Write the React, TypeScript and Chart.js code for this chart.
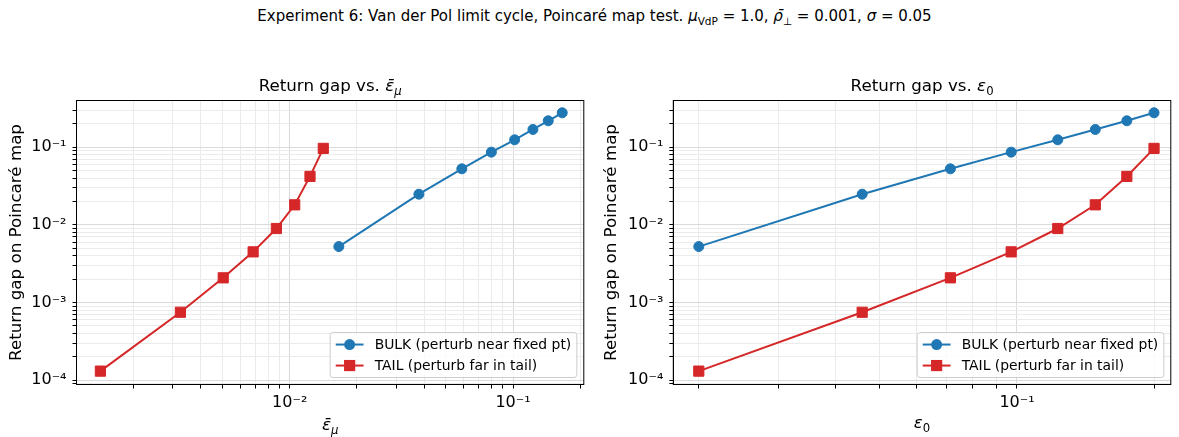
import React, { useEffect, useRef } from "react";
import { Chart, registerables } from "chart.js";

Chart.register(...registerables);

// ---------------- data ----------------
const bulkEpsMu = [0.0166, 0.0379, 0.059, 0.08, 0.1017, 0.1228, 0.1438, 0.1661];
const tailEpsMu = [0.00142, 0.00324, 0.00504, 0.00686, 0.00872, 0.01053, 0.01233, 0.01414];
const eps0 = [0.02, 0.0457, 0.0714, 0.0971, 0.1229, 0.1486, 0.1743, 0.2];
const bulkGap = [0.00525, 0.0248, 0.0526, 0.0862, 0.1243, 0.1689, 0.2184, 0.2769];
const tailGap = [0.000131, 0.00075, 0.00208, 0.00449, 0.00897, 0.0181, 0.042, 0.0964];

const gapRange = [8.81e-5, 0.3985];
const epsMuRange = [0.00111, 0.2075];
const eps0Range = [0.01758, 0.2177];

const bulkLabel = "BULK (perturb near fixed pt)";
const tailLabel = "TAIL (perturb far in tail)";
const yLabel = "Return gap on Poincaré map";

// ---------------- styling ----------------
const FONT = '"DejaVu Sans", sans-serif';
const BLUE = "#1f77b4";
const RED = "#d62728";
const MAJOR_GRID = "#dadada";
const MINOR_GRID = "#ebebeb";
const W = 1179;
const H = 437;

type Run = { t: string; it?: boolean; sub?: boolean };

const SUP: Record<string, string> = {
  "-": "⁻", "0": "⁰", "1": "¹", "2": "²", "3": "³", "4": "⁴",
  "5": "⁵", "6": "⁶", "7": "⁷", "8": "⁸", "9": "⁹",
};
const sup = (n: number) => String(n).split("").map((c) => SUP[c] || c).join("");

const isMajor = (v: number) => {
  const l = Math.log10(v);
  return Math.abs(l - Math.round(l)) < 1e-9;
};

function logTicks(min: number, max: number) {
  const out: number[] = [];
  for (let e = Math.floor(Math.log10(min)); e <= Math.ceil(Math.log10(max)); e++) {
    for (let m = 1; m <= 9; m++) {
      const v = parseFloat((m * Math.pow(10, e)).toPrecision(6));
      if (v >= min && v <= max) out.push(v);
    }
  }
  return out;
}

function drawRich(ctx: CanvasRenderingContext2D, runs: Run[], cx: number, baseline: number, size: number) {
  const fontOf = (r: Run) => `${r.it ? "italic " : ""}${r.sub ? size * 0.7 : size}px ${FONT}`;
  let total = 0;
  const widths = runs.map((r) => {
    ctx.font = fontOf(r);
    const w = ctx.measureText(r.t).width;
    total += w;
    return w;
  });
  let x = cx - total / 2;
  ctx.save();
  ctx.fillStyle = "#000";
  ctx.textAlign = "left";
  ctx.textBaseline = "alphabetic";
  runs.forEach((r, i) => {
    ctx.font = fontOf(r);
    ctx.fillText(r.t, x, baseline + (r.sub ? size * 0.22 : 0));
    x += widths[i];
  });
  ctx.restore();
}

function logAxis(range: number[], position: "left" | "bottom", fit: number, title?: { text: string; pad: number }) {
  const [min, max] = range;
  return {
    type: "logarithmic" as const,
    position,
    min,
    max,
    afterBuildTicks: (s: any) => {
      s.ticks = logTicks(min, max).map((v) => ({ value: v, major: isMajor(v) }));
    },
    afterFit: (s: any) => {
      if (position === "left") s.width = fit;
      else s.height = fit;
    },
    ticks: {
      autoSkip: false,
      maxRotation: 0,
      minRotation: 0,
      color: "#000",
      padding: position === "left" ? 6 : 5,
      font: { family: FONT, size: 16 },
      callback: (v: any) => (isMajor(Number(v)) ? "10" + sup(Math.round(Math.log10(Number(v)))) : ""),
    },
    grid: {
      color: (c: any) => (c.tick && c.tick.major ? MAJOR_GRID : MINOR_GRID),
      tickColor: "#000",
      tickLength: 4,
      lineWidth: 1,
    },
    border: { display: true, color: "#000", width: 1 },
    title: title
      ? {
          display: true,
          text: title.text,
          color: "#000",
          font: { family: FONT, size: 16.7, lineHeight: 1.2 },
          padding: { top: title.pad, bottom: 0 },
        }
      : { display: false },
  };
}

function makePlugin(titleRuns: Run[], xRuns: Run[], xBaseline: number) {
  return {
    id: "decor",
    afterDatasetsDraw(chart: any) {
      const { ctx, chartArea: ca } = chart;
      // frame (top/right spines)
      ctx.save();
      ctx.strokeStyle = "#000";
      ctx.lineWidth = 1;
      ctx.strokeRect(ca.left, ca.top, ca.right - ca.left, ca.bottom - ca.top);
      ctx.restore();

      // legend (lower right)
      const fs = 13.9;
      ctx.save();
      ctx.font = `${fs}px ${FONT}`;
      const ds = chart.data.datasets;
      const tw = Math.max(...ds.map((d: any) => ctx.measureText(d.label).width));
      const bp = 0.4 * fs, hl = 2 * fs, htp = 0.8 * fs;
      const w = bp * 2 + hl + htp + tw;
      const h = 45;
      const right = ca.right - 0.5 * fs;
      const bottom = ca.bottom - 0.5 * fs;
      const left = right - w;
      const top = bottom - h;
      const r = 3;
      ctx.beginPath();
      ctx.moveTo(left + r, top);
      ctx.lineTo(right - r, top);
      ctx.quadraticCurveTo(right, top, right, top + r);
      ctx.lineTo(right, bottom - r);
      ctx.quadraticCurveTo(right, bottom, right - r, bottom);
      ctx.lineTo(left + r, bottom);
      ctx.quadraticCurveTo(left, bottom, left, bottom - r);
      ctx.lineTo(left, top + r);
      ctx.quadraticCurveTo(left, top, left + r, top);
      ctx.closePath();
      ctx.fillStyle = "rgba(255,255,255,0.8)";
      ctx.fill();
      ctx.strokeStyle = "#cccccc";
      ctx.lineWidth = 1;
      ctx.stroke();
      ds.forEach((d: any, i: number) => {
        const y = top + 12 + i * 21;
        const x0 = left + bp;
        ctx.strokeStyle = d.borderColor;
        ctx.lineWidth = d.borderWidth;
        ctx.beginPath();
        ctx.moveTo(x0, y);
        ctx.lineTo(x0 + hl, y);
        ctx.stroke();
        ctx.fillStyle = d.pointBackgroundColor;
        const mx = x0 + hl / 2;
        if (d.pointStyle === "rect") {
          const s = Math.SQRT1_2 * d.pointRadius + 0.5;
          ctx.fillRect(mx - s, y - s, 2 * s, 2 * s);
        } else {
          ctx.beginPath();
          ctx.arc(mx, y, d.pointRadius + 0.5, 0, Math.PI * 2);
          ctx.fill();
        }
        ctx.fillStyle = "#000";
        ctx.font = `${fs}px ${FONT}`;
        ctx.textAlign = "left";
        ctx.textBaseline = "middle";
        ctx.fillText(d.label, x0 + hl + htp, y + 1);
      });
      ctx.restore();
    },
    afterDraw(chart: any) {
      const { ctx, chartArea: ca } = chart;
      const cx = (ca.left + ca.right) / 2;
      drawRich(ctx, titleRuns, cx, 91, 16.7);
      drawRich(ctx, xRuns, cx, xBaseline, 16.7);
    },
  };
}

function datasets(xs: number[][]) {
  return [
    {
      label: bulkLabel,
      data: xs[0].map((x, i) => ({ x, y: bulkGap[i] })),
      borderColor: BLUE,
      backgroundColor: BLUE,
      pointBackgroundColor: BLUE,
      pointBorderColor: BLUE,
      borderWidth: 2,
      pointStyle: "circle",
      pointRadius: 5,
      pointBorderWidth: 1,
      showLine: true,
      fill: false,
    },
    {
      label: tailLabel,
      data: xs[1].map((x, i) => ({ x, y: tailGap[i] })),
      borderColor: RED,
      backgroundColor: RED,
      pointBackgroundColor: RED,
      pointBorderColor: RED,
      borderWidth: 2,
      pointStyle: "rect",
      pointRadius: 7.2,
      pointBorderWidth: 1,
      showLine: true,
      fill: false,
    },
  ];
}

type PanelProps = {
  left: number;
  width: number;
  xs: number[][];
  xRange: number[];
  areaLeft: number;
  areaRight: number;
  yTitlePad: number;
  titleRuns: Run[];
  xRuns: Run[];
  xBaseline: number;
};

function Panel(p: PanelProps) {
  const ref = useRef<HTMLCanvasElement | null>(null);
  useEffect(() => {
    if (!ref.current) return;
    const top = 100.5;
    const bottom = 384.5;
    const chart = new Chart(ref.current, {
      type: "scatter",
      data: { datasets: datasets(p.xs) as any },
      options: {
        animation: false,
        responsive: false,
        maintainAspectRatio: false,
        devicePixelRatio: 1,
        layout: { padding: { top, left: 0, right: p.width - p.areaRight, bottom: 0 } },
        plugins: { legend: { display: false }, tooltip: { enabled: false }, title: { display: false } },
        scales: {
          x: logAxis(p.xRange, "bottom", H - bottom) as any,
          y: logAxis(gapRange, "left", p.areaLeft, { text: yLabel, pad: p.yTitlePad }) as any,
        },
      },
      plugins: [makePlugin(p.titleRuns, p.xRuns, p.xBaseline)],
    });
    return () => chart.destroy();
  }, []);
  return (
    <canvas
      ref={ref}
      width={p.width}
      height={H}
      style={{ position: "absolute", left: p.left, top: 0, width: p.width, height: H }}
    />
  );
}

export default function App() {
  return (
    <div style={{ position: "absolute", left: 0, top: 0, width: W, height: H, background: "#fff", overflow: "hidden" }}>
      <div
        style={{
          position: "absolute",
          left: 0,
          top: 6,
          width: 1189,
          textAlign: "center",
          fontFamily: FONT,
          fontSize: 15,
          lineHeight: "20px",
          color: "#000",
          whiteSpace: "nowrap",
        }}
      >
        Experiment 6: Van der Pol limit cycle, Poincaré map test. <i>μ</i>
        <sub style={{ fontSize: "70%" }}>VdP</sub> = 1.0, <i>ρ̄</i>
        <sub style={{ fontSize: "70%" }}>⊥</sub> = 0.001, <i>σ</i> = 0.05
      </div>
      <Panel
        left={0}
        width={592}
        xs={[bulkEpsMu, tailEpsMu]}
        xRange={epsMuRange}
        areaLeft={76.5}
        areaRight={585.5}
        yTitlePad={7}
        titleRuns={[{ t: "Return gap vs. " }, { t: "ε̄", it: true }, { t: "μ", it: true, sub: true }]}
        xRuns={[{ t: "ε̄", it: true }, { t: "μ", it: true, sub: true }]}
        xBaseline={430}
      />
      <Panel
        left={592}
        width={587}
        xs={[eps0, eps0]}
        xRange={eps0Range}
        areaLeft={81.3}
        areaRight={584}
        yTitlePad={10}
        titleRuns={[{ t: "Return gap vs. " }, { t: "ε", it: true }, { t: "0", sub: true }]}
        xRuns={[{ t: "ε", it: true }, { t: "0", sub: true }]}
        xBaseline={428}
      />
    </div>
  );
}
